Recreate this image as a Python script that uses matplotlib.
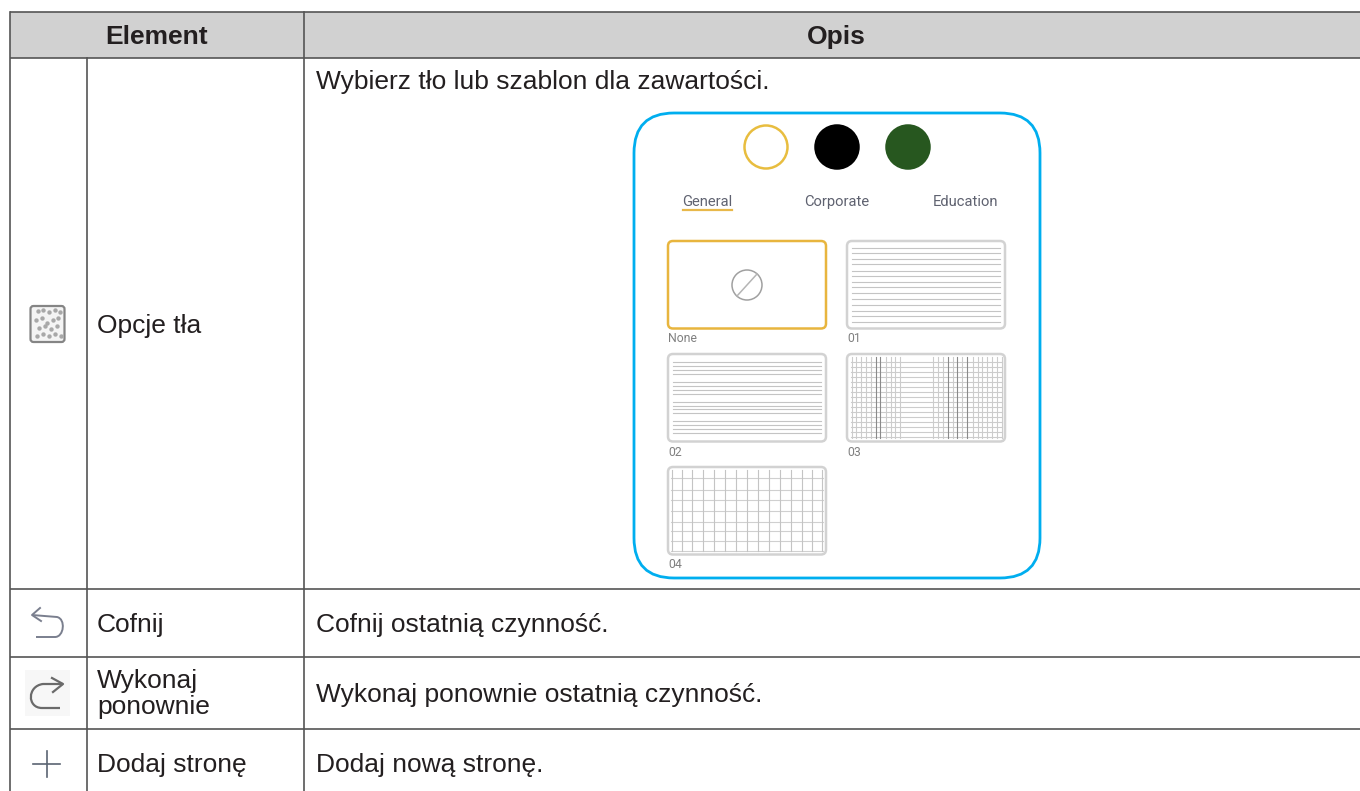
import matplotlib
matplotlib.use("Agg")
import matplotlib.pyplot as plt
from matplotlib.patches import Circle, FancyBboxPatch, Rectangle
from matplotlib.path import Path
from matplotlib.patches import PathPatch

plt.rcParams['font.family'] = ['Liberation Sans', 'DejaVu Sans']

headers = ['Element', 'Opis']
row_names = ['Opcje tła', 'Cofnij', 'Wykonaj\nponownie', 'Dodaj stronę']
row_desc = ['Wybierz tło lub szablon dla zawartości.', 'Cofnij ostatnią czynność.',
            'Wykonaj ponownie ostatnią czynność.', 'Dodaj nową stronę.']
row_name_y = [326, 625, 694, 765]
row_desc_y = [82, 625, 695, 765]

# table grid in pixels
col_lines = [10, 86.5, 304]
row_lines = [12, 58, 589, 657, 729]

tabs = ['General', 'Corporate', 'Education']
tab_x = [707.5, 837, 966]
swatch_x = [766, 837, 908]
swatch_face = ['#ffffff', '#000000', '#27571f']
swatch_edge = ['#e8bd3f', '#000000', '#27571f']

thumb_names = ['None', '01', '02', '03', '04']
thumb_x = [668, 847, 668, 847, 668]
thumb_y = [241, 241, 354, 354, 467]

lines_01 = [248, 253, 259, 264, 271, 276, 282, 287, 293, 299, 305, 311, 316, 322]
lines_02 = [362, 366, 370, 374, 382, 386, 390, 394, 402, 406, 409, 413, 421, 425, 429, 433]
lines_03_v = [852, 856, 861, 866, 871, 876, 880, 886, 891, 895, 900,
              933, 938, 943, 948, 953, 957, 962, 967, 973, 978, 982, 987, 992, 997, 1002]
lines_03_v_dark = [876, 880, 948, 957, 967]
lines_03_h = [362, 367, 372, 377, 382, 387, 392, 397, 402, 407, 412, 417, 422, 427, 432, 437]
lines_04_v = [672, 682, 692, 703, 714, 725, 736, 747, 758, 769, 780, 791, 802, 812, 822]
lines_04_h = [478, 490, 500, 511, 522, 531, 541, 551]

icon_dots_x = [38, 43, 49, 55, 60, 36, 42, 47, 53, 58, 39, 45, 51, 57, 37, 43, 49, 55, 61]
icon_dots_y = [311, 310, 312, 310, 312, 320, 318, 323, 320, 318, 328, 326, 329, 326, 336, 334, 336, 334, 336]

fig = plt.figure(figsize=(13.6, 7.91), dpi=100)
ax = fig.add_axes([0, 0, 1, 1])
ax.set_xlim(0, 1360)
ax.set_ylim(791, 0)
ax.axis('off')

# header band
ax.add_patch(Rectangle((10, 12), 1350, 46, fc='#d1d1d1', ec='none', zorder=0))

grid = '#555555'
for y in row_lines:
    ax.plot([10, 1360], [y, y], color=grid, lw=1.2, zorder=2, solid_capstyle='butt')
ax.plot([10, 10], [12, 791], color=grid, lw=1.2, zorder=2)
ax.plot([304, 304], [12, 791], color=grid, lw=1.2, zorder=2)
ax.plot([86.5, 86.5], [58, 791], color=grid, lw=1.2, zorder=2)

ax.text(157, 37, headers[0], fontsize=19, fontweight='bold', ha='center', va='center', color='#231f20')
ax.text(836, 37, headers[1], fontsize=19, fontweight='bold', ha='center', va='center', color='#231f20')

for name, ny, desc, dy in zip(row_names, row_name_y, row_desc, row_desc_y):
    ax.text(97, ny, name, fontsize=19, ha='left', va='center', color='#231f20', linespacing=1.15)
    ax.text(316, dy, desc, fontsize=19, ha='left', va='center', color='#231f20')

# screenshot panel
ax.add_patch(FancyBboxPatch((634, 113), 406, 465, boxstyle='round,pad=0,rounding_size=40',
                            fc='white', ec='#00aeef', lw=2.0, zorder=3))

for x, fc, ec in zip(swatch_x, swatch_face, swatch_edge):
    ax.add_patch(Circle((x, 147), 21.5, fc=fc, ec=ec, lw=1.8, zorder=4))

for name, x in zip(tabs, tab_x):
    ax.text(x, 202, name, fontsize=10.6, ha='center', va='center', color='#5f6270', family='Roboto', zorder=4)
ax.plot([683, 732], [210, 210], color='#e8b84a', lw=1.6, zorder=4)

for i, (name, x, y) in enumerate(zip(thumb_names, thumb_x, thumb_y)):
    ec = '#e8b53e' if i == 0 else '#d2d2d2'
    ax.add_patch(FancyBboxPatch((x, y), 158, 87.5, boxstyle='round,pad=0,rounding_size=5',
                                fc='white', ec=ec, lw=1.8, zorder=6))
    ax.text(x, y + 98, name, fontsize=8.8, ha='left', va='center', color='#808080', family='Roboto', zorder=4)

# no-template sign
ax.add_patch(Circle((747, 285), 15, fc='none', ec='#a0a0a0', lw=1.1, zorder=7))
ax.plot([737, 757], [296, 274], color='#b5b5b5', lw=1.1, zorder=7)

for y in lines_01:
    ax.plot([852, 1000], [y, y], color='#c4c4c4', lw=0.8, zorder=7)
for y in lines_02:
    ax.plot([673, 821], [y, y], color='#c4c4c4', lw=0.8, zorder=7)
for y in lines_03_h:
    ax.plot([851, 1002], [y, y], color='#cccccc', lw=0.8, zorder=7)
for x in lines_03_v:
    c = '#8a8a8a' if x in lines_03_v_dark else '#cccccc'
    ax.plot([x, x], [357, 438], color=c, lw=0.8, zorder=7)
for y in lines_04_h:
    ax.plot([671, 823], [y, y], color='#d0d0d0', lw=0.8, zorder=7)
for x in lines_04_v:
    ax.plot([x, x], [470, 551], color='#c4c4c4', lw=0.8, zorder=7)

# row icons
ax.add_patch(FancyBboxPatch((30.5, 306), 34, 36, boxstyle='round,pad=0,rounding_size=3',
                            fc='#f4f4f4', ec='#858585', lw=1.6, zorder=4))
ax.scatter(icon_dots_x, icon_dots_y, s=10, color='#a8a8a8', lw=0, zorder=5)

icon_col = '#7a7f8e'
undo = Path([(32, 615), (57, 617), (66, 619), (64, 637), (55, 637), (36, 637)],
            [Path.MOVETO, Path.LINETO, Path.CURVE4, Path.CURVE4, Path.CURVE4, Path.LINETO])
ax.add_patch(PathPatch(undo, fc='none', ec=icon_col, lw=1.4, zorder=4))
ax.plot([40, 32, 41], [608, 615, 621], color=icon_col, lw=1.4, zorder=4)

ax.add_patch(Rectangle((25, 670), 45, 46, fc='#f7f7f7', ec='none', zorder=1))
redo = Path([(63, 684), (43, 684), (27, 686), (27, 708), (42, 708), (60, 708)],
            [Path.MOVETO, Path.LINETO, Path.CURVE4, Path.CURVE4, Path.CURVE4, Path.LINETO])
ax.add_patch(PathPatch(redo, fc='none', ec='#6a6a6a', lw=1.6, zorder=4))
ax.plot([52, 63, 53], [678, 684, 692], color='#6a6a6a', lw=1.6, zorder=4)

ax.plot([33, 60], [764, 764], color='#5a6472', lw=1.2, zorder=4)
ax.plot([46.5, 46.5], [751, 777], color='#5a6472', lw=1.2, zorder=4)

fig.savefig('out.png', dpi=100)
